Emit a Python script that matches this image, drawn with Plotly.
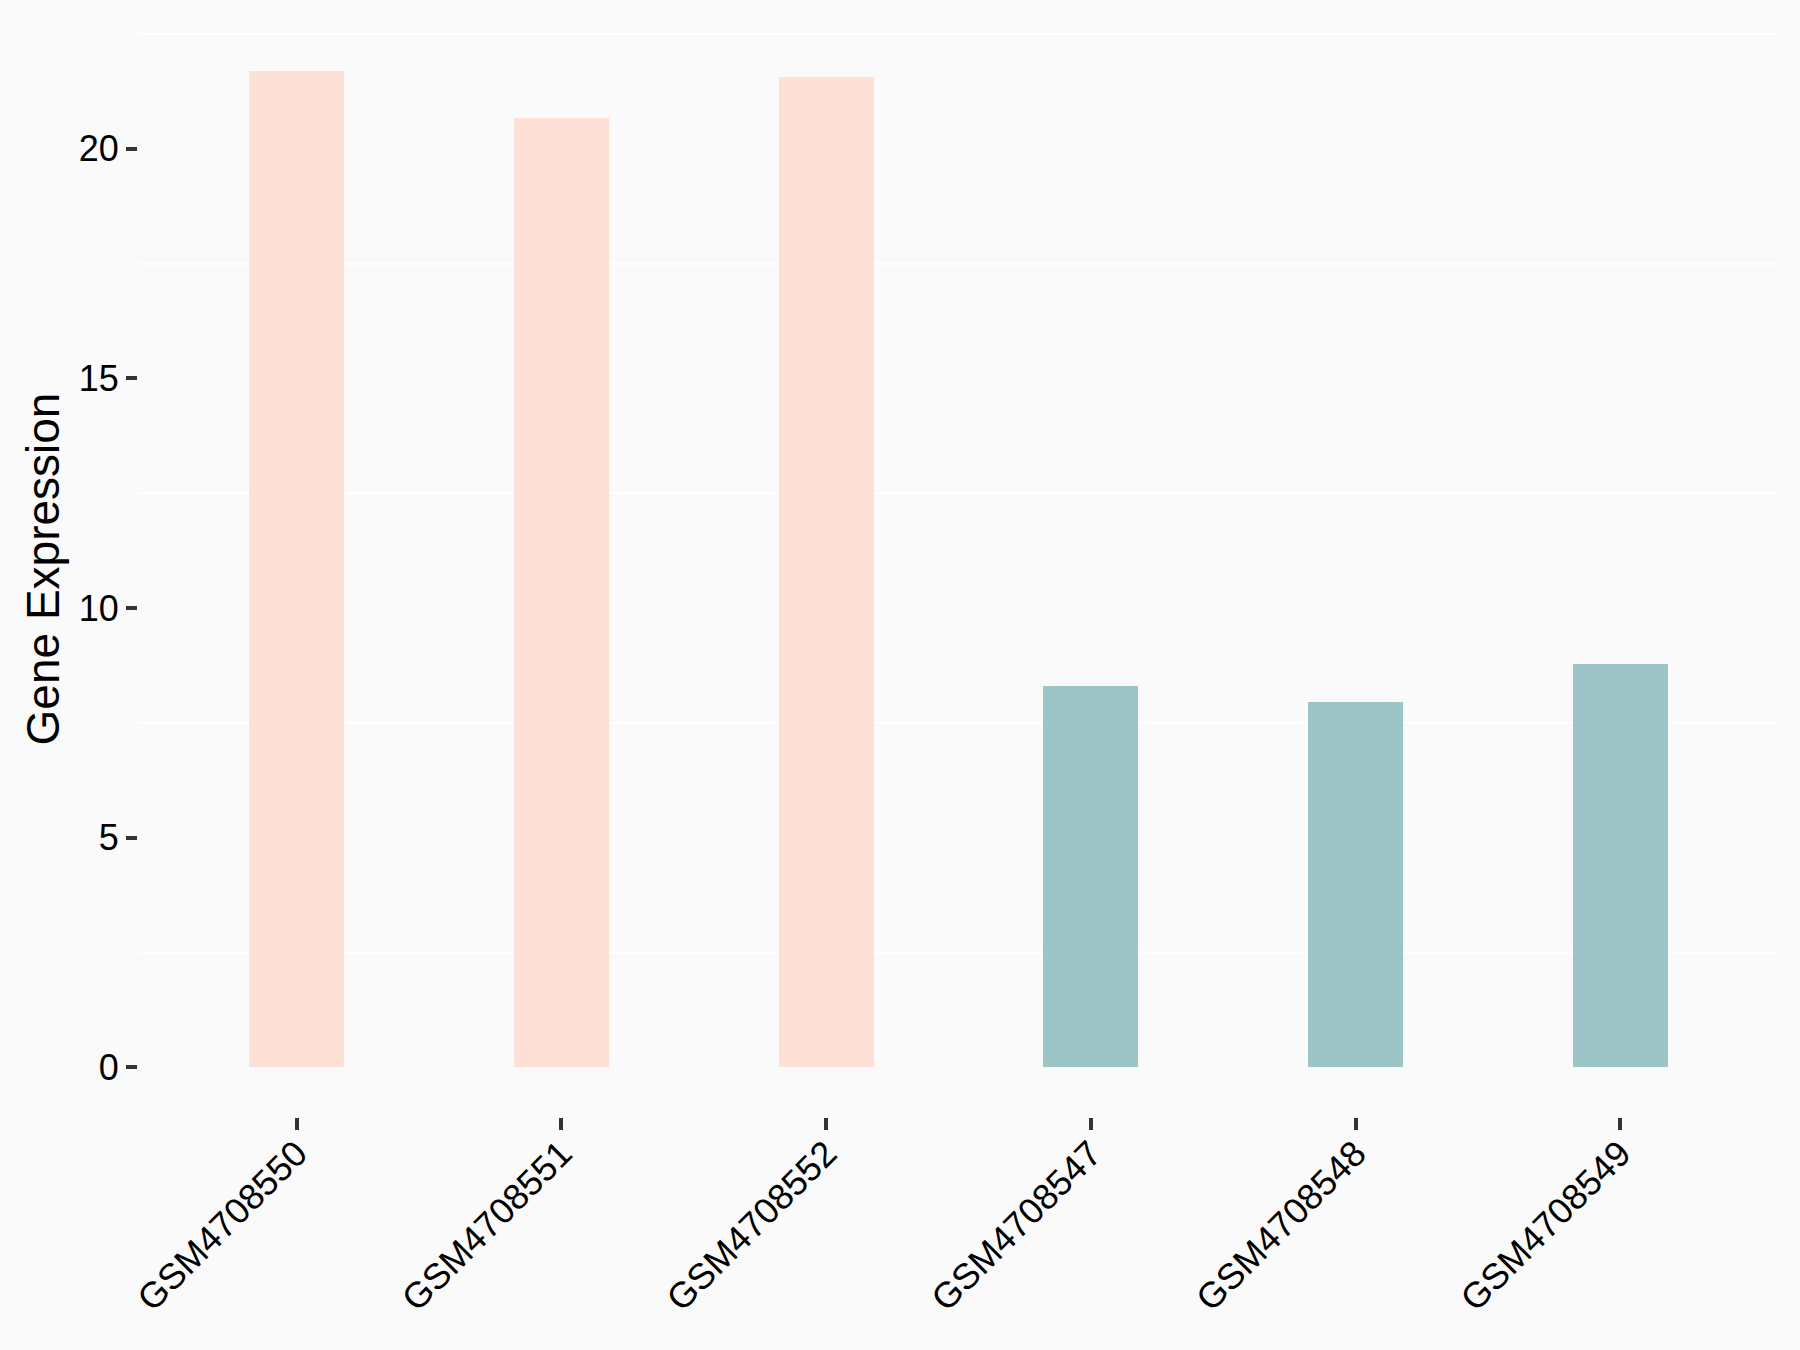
import plotly.graph_objects as go

samples = ["GSM4708550", "GSM4708551", "GSM4708552", "GSM4708547", "GSM4708548", "GSM4708549"]
expression = [21.70, 20.68, 21.56, 8.30, 7.96, 8.78]
groups = ["A", "A", "A", "B", "B", "B"]
group_colors = {"A": "#FEE1D6", "B": "#9DC4C7"}
y_ticks = [0, 5, 10, 15, 20]
y_minor_grid = [2.5, 7.5, 12.5, 17.5, 22.5]

ymax = max(expression)
y_range = [-0.05 * ymax, ymax * 1.05]

fig = go.Figure()
fig.add_trace(go.Bar(
    x=samples, y=expression, width=0.36,
    marker=dict(color=[group_colors[g] for g in groups], line=dict(width=0)),
    showlegend=False,
))

for g in y_minor_grid:
    fig.add_shape(type="line", xref="paper", x0=0, x1=1, yref="y", y0=g, y1=g,
                  line=dict(color="#FFFFFF", width=2), layer="below")

fig.update_layout(
    width=1800, height=1350,
    paper_bgcolor="#FAFAFA", plot_bgcolor="#FAFAFA",
    margin=dict(l=138, r=21, t=21, b=233),
    font=dict(family="Liberation Sans, Arial, sans-serif", color="#000000"),
    bargap=0,
)
fig.update_xaxes(
    range=[-0.6, 5.6], tickangle=-45, showgrid=False, zeroline=False, showline=False,
    ticks="outside", ticklen=12, tickwidth=4, tickcolor="#333333",
    tickfont=dict(size=36, color="#000000"), ticklabelstandoff=-12,
)
fig.update_yaxes(
    range=y_range, tickvals=y_ticks, ticktext=[str(v) for v in y_ticks],
    showgrid=False, zeroline=False, showline=False,
    ticks="outside", ticklen=11, tickwidth=4, tickcolor="#333333",
    tickfont=dict(size=36, color="#000000"),
    title=dict(text="Gene Expression", font=dict(size=46, color="#000000"), standoff=4),
)

fig.write_html("out.html", config={"displayModeBar": False},
               post_script="document.body.style.margin='0';document.body.style.background='#FAFAFA';")
